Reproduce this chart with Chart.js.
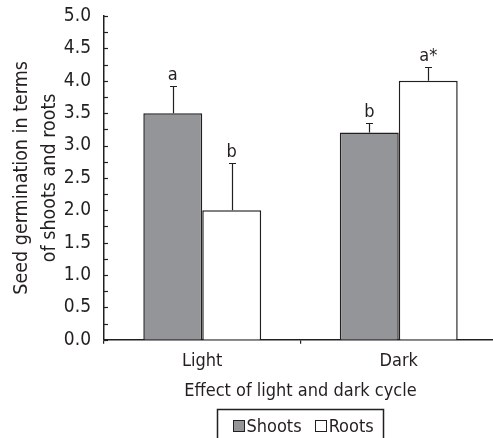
<!DOCTYPE html>
<html>
<head>
<meta charset="utf-8">
<script src="https://cdn.jsdelivr.net/npm/chart.js@4.4.1/dist/chart.umd.min.js"></script>
<style>
  html, body { margin: 0; padding: 0; background: #fff; overflow: hidden; }
  #wrap { width: 493px; height: 438px; overflow: hidden; position: relative; }
  #box { width: 497px; height: 438px; position: absolute; left: 0; top: 0; }
</style>
</head>
<body>
<div id="wrap"><div id="box"><canvas id="c"></canvas></div></div>
<script>
const categories = ['Light', 'Dark'];
const shoots = [3.5, 3.2];
const roots = [2.0, 4.0];
const shootsErr = [0.42, 0.15];
const rootsErr = [0.73, 0.22];
const shootsLetters = ['a', 'b'];
const rootsLetters = ['b', 'a*'];
const yTicks = [0, 0.5, 1, 1.5, 2, 2.5, 3, 3.5, 4, 4.5, 5];
const minorStep = 0.25;

const FONT = "'DejaVu Sans Condensed', 'Liberation Sans Narrow', sans-serif";
const INK = '#231f20';

const decor = {
  id: 'decor',
  afterDatasetsDraw(chart) {
    const ctx = chart.ctx;
    const y = chart.scales.y;
    ctx.save();
    ctx.strokeStyle = INK;
    ctx.lineWidth = 1.2;
    const left = chart.chartArea.left;
    for (let v = y.min; v <= y.max + 1e-9; v += minorStep) {
      const py = Math.round(y.getPixelForValue(v)) + 0.5;
      ctx.beginPath();
      ctx.moveTo(left, py);
      ctx.lineTo(left + 4, py);
      ctx.stroke();
    }
    const errs = [shootsErr, rootsErr];
    const letters = [shootsLetters, rootsLetters];
    ctx.fillStyle = INK;
    ctx.font = "18px " + FONT;
    ctx.textAlign = 'center';
    ctx.textBaseline = 'alphabetic';
    chart.data.datasets.forEach((ds, di) => {
      const meta = chart.getDatasetMeta(di);
      meta.data.forEach((bar, i) => {
        const top = ds.data[i] + errs[di][i];
        const pxTop = Math.round(y.getPixelForValue(top)) + 0.5;
        const pxBar = y.getPixelForValue(ds.data[i]);
        const cx = Math.round(bar.x) + 0.5;
        ctx.beginPath();
        ctx.moveTo(cx, pxBar);
        ctx.lineTo(cx, pxTop);
        ctx.moveTo(cx - 3.5, pxTop);
        ctx.lineTo(cx + 3.5, pxTop);
        ctx.stroke();
        ctx.fillText(letters[di][i], bar.x, pxTop - 7);
      });
    });
    ctx.restore();
  },
  afterDraw(chart) {
    const ctx = chart.ctx;
    const ca = chart.chartArea;
    ctx.save();
    ctx.font = "18px " + FONT;
    const items = chart.data.datasets.map(ds => ({ text: ds.label, fill: ds.backgroundColor, w: ctx.measureText(ds.label).width }));
    const sq = 12, gapT = 2, gapI = 13, padL = 15, padR = 10;
    let total = padL + padR;
    items.forEach((it, i) => { total += sq + gapT + it.w + (i ? gapI : 0); });
    const cx = (ca.left + ca.right) / 2;
    const bx = Math.round(cx - total / 2) + 0.5;
    const by = 409.5;
    ctx.strokeStyle = INK;
    ctx.lineWidth = 1.5;
    ctx.strokeRect(bx, by, Math.round(total), 40);
    let x = bx + padL;
    const midY = 426;
    ctx.textBaseline = 'middle';
    ctx.textAlign = 'left';
    items.forEach((it, i) => {
      if (i) x += gapI;
      ctx.fillStyle = it.fill;
      ctx.fillRect(Math.round(x), midY - 6, sq, sq);
      ctx.lineWidth = 1;
      ctx.strokeRect(Math.round(x) + 0.5, midY - 6 + 0.5, sq - 1, sq - 1);
      x += sq + gapT;
      ctx.fillStyle = INK;
      ctx.fillText(it.text, x, midY + 1);
      x += it.w;
    });
    ctx.restore();
  }
};

new Chart(document.getElementById('c'), {
  type: 'bar',
  data: {
    labels: categories,
    datasets: [
      { label: 'Shoots', data: shoots, backgroundColor: '#939598', borderColor: INK, borderWidth: 1.5, borderSkipped: 'bottom' },
      { label: 'Roots', data: roots, backgroundColor: '#ffffff', borderColor: INK, borderWidth: 1.5, borderSkipped: 'bottom' }
    ]
  },
  options: {
    responsive: true,
    maintainAspectRatio: false,
    animation: false,
    devicePixelRatio: 1,
    layout: { padding: { left: 8, top: 16, right: 0, bottom: 32 } },
    datasets: { bar: { categoryPercentage: 0.6, barPercentage: 1.0 } },
    plugins: {
      tooltip: { enabled: false },
      legend: { display: false }
    },
    scales: {
      x: {
        offset: true,
        border: { display: true, color: INK, width: 1.5 },
        grid: { display: true, offset: true, drawOnChartArea: false, drawTicks: true, tickLength: 4, color: INK, lineWidth: 1.2 },
        ticks: { color: INK, font: { family: FONT, size: 18 }, padding: 7 },
        title: { display: true, text: 'Effect of light and dark cycle', color: INK, font: { family: FONT, size: 18 }, padding: { top: 1, bottom: 4 } }
      },
      y: {
        min: 0,
        max: 5,
        border: { display: true, color: INK, width: 1.5 },
        grid: { display: false, drawTicks: false },
        afterBuildTicks(scale) { scale.ticks = yTicks.map(v => ({ value: v })); },
        afterFit(scale) { scale.width = 96; scale.paddingTop = 0; scale.paddingBottom = 0; },
        ticks: {
          color: INK,
          font: { family: FONT, size: 19 },
          padding: 13,
          callback: v => Number(v).toFixed(1)
        },
        title: {
          display: true,
          text: ['Seed germination in terms', 'of shoots and roots'],
          color: INK,
          font: { family: FONT, size: 19.5, lineHeight: 1.44 },
          padding: { top: 0, bottom: 4 }
        }
      }
    }
  },
  plugins: [decor]
});
</script>
</body>
</html>
